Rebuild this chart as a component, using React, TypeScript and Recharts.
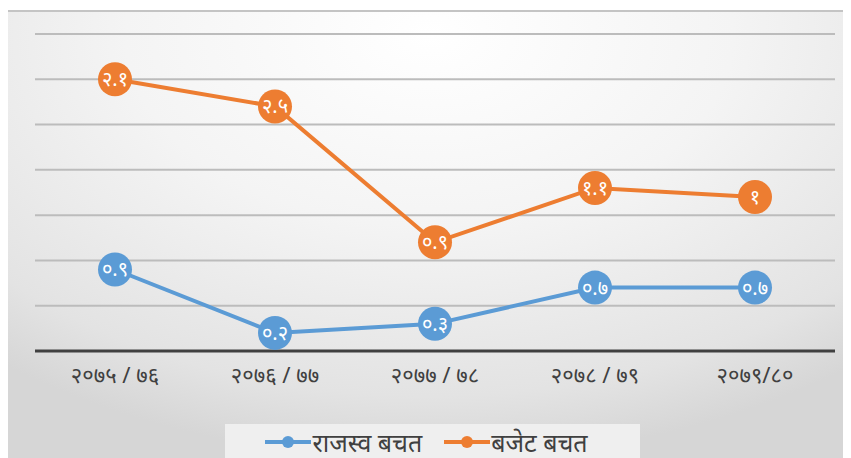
import { AreaChart, Area, XAxis, YAxis, CartesianGrid } from 'recharts';

const years = ['२०७५ / ७६', '२०७६ / ७७', '२०७७ / ७८', '२०७८ / ७९', '२०७९/८०'];
const revenueSaving = [0.9, 0.2, 0.3, 0.7, 0.7];
const budgetSaving = [2.1, 2.5, 0.9, 1.1, 1];
const yTicks = [0, 0.5, 1, 1.5, 2, 2.5, 3, 3.5];

const BLUE = '#5b9bd5';
const ORANGE = '#ed7d31';
const FONT = '"Noto Sans", "Noto Sans Devanagari", Lohit, sans-serif';

const data = years.map((year, i) => ({
  year,
  revenue: revenueSaving[i],
  budget: budgetSaving[i],
}));

// convert 0.9 -> ०.९
const nepaliDigits = '०१२३४५६७८९';
const toNepali = (v: number) =>
  String(v).replace(/[0-9]/g, (d) => nepaliDigits[Number(d)]);

const makeDot = (color: string, values: number[]) => (props: any) => {
  const { cx, cy, index } = props;
  if (cx == null || cy == null) return <g key={`dot-${index}`} />;
  return (
    <g key={`dot-${color}-${index}`}>
      <circle cx={cx} cy={cy} r={17} fill={color} />
      <text
        x={cx}
        y={cy}
        dy={7}
        textAnchor="middle"
        fill="#fff"
        fontSize={20}
        fontFamily={FONT}
      >
        {toNepali(values[index])}
      </text>
    </g>
  );
};

const YearTick = ({ x, y, payload }: any) => (
  <text
    x={x}
    y={y}
    dy={24}
    textAnchor="middle"
    fill="#404040"
    fontSize={22}
    fontFamily={FONT}
  >
    {payload.value}
  </text>
);

const LegendItem = ({ color, label }: { color: string; label: string }) => (
  <div style={{ display: 'flex', alignItems: 'center', marginRight: 22 }}>
    <svg width={46} height={14}>
      <line x1={0} y1={7} x2={46} y2={7} stroke={color} strokeWidth={4} />
      <circle cx={23} cy={7} r={6} fill={color} />
    </svg>
    <span style={{ fontSize: 25, color: '#404040', marginLeft: 1 }}>{label}</span>
  </div>
);

export default function App() {
  return (
    <div
      style={{
        position: 'relative',
        width: 843,
        height: 448,
        marginTop: 2,
        fontFamily: FONT,
        borderTop: '2px solid #c4c4c4',
        background:
          'radial-gradient(ellipse 80% 95% at 50% 5%, #ffffff 0%, #f4f4f4 45%, #e3e3e3 85%, #d6d6d6 100%)',
      }}
    >
      <AreaChart
        width={843}
        height={390}
        data={data}
        margin={{ top: 22, right: 16, left: 27, bottom: 0 }}
      >
        <CartesianGrid vertical={false} stroke="#bcbcbc" strokeWidth={2} />
        <XAxis
          dataKey="year"
          axisLine={{ stroke: '#404040', strokeWidth: 3 }}
          tickLine={false}
          tick={<YearTick />}
          height={51}
          interval={0}
          padding={{ left: 80, right: 80 }}
        />
        <YAxis hide domain={[0, 3.5]} ticks={yTicks} />
        <Area
          type="linear"
          dataKey="revenue"
          stackId="1"
          stroke={BLUE}
          strokeWidth={4}
          fill="none"
          fillOpacity={0}
          dot={makeDot(BLUE, revenueSaving)}
          activeDot={false}
          isAnimationActive={false}
        />
        <Area
          type="linear"
          dataKey="budget"
          stackId="1"
          stroke={ORANGE}
          strokeWidth={4}
          fill="none"
          fillOpacity={0}
          dot={makeDot(ORANGE, budgetSaving)}
          activeDot={false}
          isAnimationActive={false}
        />
      </AreaChart>
      <div
        style={{
          position: 'absolute',
          left: 217,
          top: 412,
          width: 415,
          height: 36,
          background: '#efefef',
          display: 'flex',
          alignItems: 'center',
          justifyContent: 'center',
          paddingLeft: 10,
          boxSizing: 'border-box',
        }}
      >
        <LegendItem color={BLUE} label="राजस्व बचत" />
        <LegendItem color={ORANGE} label="बजेट बचत" />
      </div>
    </div>
  );
}
